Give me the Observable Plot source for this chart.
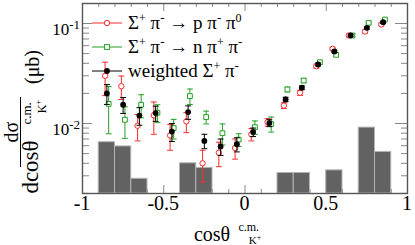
<!DOCTYPE html>
<html><head><meta charset="utf-8">
<script src="https://cdn.jsdelivr.net/npm/d3@7"></script>
<script src="https://cdn.jsdelivr.net/npm/@observablehq/plot@0.6"></script>
<style>body{margin:0;background:#fff}</style>
</head><body><div id="chart"></div>
<script>
// ---- data ----
const binCenters = [-0.85,-0.75,-0.65,-0.55,-0.45,-0.35,-0.25,-0.15,-0.05,0.05,0.15,0.25,0.35,0.45,0.55,0.65,0.75,0.85];
const redVal   = [0.030,0.0236,0.0095,0.0121,0.0076,0.0105,0.0040,0.0051,0.0057,0.0078,0.0103,0.0151,0.0203,0.0374,0.0558,0.0759,0.0832,0.0977];
const redErr   = [0.011,0.0062,0.0028,0.0043,0.0022,0.0024,0.0014,0.0014,0.0013,0.0011,0.0009,0.0010,0.0012,0.0018,0.0020,0.0025,0.0030,0.0030];
const greenVal = [0.0157,0.0109,0.0154,0.0128,0.0090,0.0188,0.0116,0.0080,0.0069,0.0092,0.0099,0.0219,0.0269,0.0410,0.0486,0.0759,0.1016,0.1096];
const greenErr = [0.0078,0.0038,0.0040,0.0026,0.0020,0.0033,0.0017,0.0019,0.0010,0.0014,0.0017,0.0012,0.0013,0.0015,0.0018,0.0025,0.0030,0.0030];
const blackVal = [0.0200,0.0154,0.0120,0.0127,0.0083,0.0130,0.0067,0.0059,0.0062,0.0082,0.0101,0.0174,0.0228,0.0389,0.0525,0.0759,0.0905,0.1030];
const blackErr = [0.0045,0.0028,0.0024,0.0022,0.0017,0.0020,0.0011,0.0011,0.0010,0.0008,0.0008,0.0009,0.0010,0.0013,0.0015,0.0020,0.0025,0.0025];
const histLo  = [-0.9,-0.8,-0.7,-0.4,-0.3,0.2,0.3,0.5,0.7,0.8];
const histHi  = [-0.8,-0.7,-0.6,-0.3,-0.2,0.3,0.4,0.6,0.8,0.9];
const histVal = [0.0065,0.0059,0.0028,0.0040,0.0036,0.0032,0.0032,0.0034,0.0091,0.0052];
const xTickVals = [-1,-0.5,0,0.5,1];
const xTickLabels = ["-1","-0.5","0","0.5","1"];
const xMinorVals = [-0.9,-0.8,-0.7,-0.6,-0.4,-0.3,-0.2,-0.1,0.1,0.2,0.3,0.4,0.6,0.7,0.8,0.9];
const xMajorVals = [-0.5,0,0.5];
const yTickVals = [0.01,0.1];
const yTickExp = ["-2","-1"];
const yMinorVals = [0.002,0.003,0.004,0.005,0.006,0.007,0.008,0.009,0.02,0.03,0.04,0.05,0.06,0.07,0.08,0.09];
const seriesNames = ["red","green","black"];

// ---- styles ----
const RED = "#ff2a2a", GREEN = "#22a022", BLACK = "#000";
const SERIF = "'Liberation Serif','Times New Roman',serif";
const W = 415, H = 245, ML = 82, MR = 8, MT = 3, MB = 52;
const FW = W - ML - MR, FH = H - MT - MB;
const yMin = Math.pow(10,-2.7), yMax = Math.pow(10,-0.8);
const off = 0.011, capHalf = 0.018;

function rows(vals, errs, dx) {
  return binCenters.map((c,i) => ({x: c + dx, v: vals[i], lo: vals[i] - errs[i], hi: vals[i] + errs[i]}));
}
const red = rows(redVal, redErr, -off);
const green = rows(greenVal, greenErr, off);
const black = rows(blackVal, blackErr, 0);
const hist = histLo.map((lo,i) => ({lo, hi: histHi[i], v: histVal[i]}));

function errMarks(data, color) {
  return [
    Plot.ruleX(data, {x: "x", y1: "lo", y2: "hi", stroke: color, strokeWidth: 1}),
    Plot.link(data, {x1: d => d.x - capHalf, x2: d => d.x + capHalf, y1: "lo", y2: "lo", stroke: color, strokeWidth: 1}),
    Plot.link(data, {x1: d => d.x - capHalf, x2: d => d.x + capHalf, y1: "hi", y2: "hi", stroke: color, strokeWidth: 1})
  ];
}

const chart = Plot.plot({
  width: W, height: H, marginLeft: ML, marginRight: MR, marginTop: MT, marginBottom: MB,
  style: {fontFamily: SERIF, background: "#fff"},
  x: {domain: [-1, 1], axis: null},
  y: {type: "log", domain: [yMin, yMax], axis: null},
  marks: [
    Plot.tickY(yMinorVals, {y: d => d, insetRight: FW - 7, stroke: "#888"}),
    Plot.tickY(yTickVals, {y: d => d, insetRight: FW - 10, stroke: "#888"}),
    Plot.tickY(yMinorVals, {y: d => d, insetLeft: FW - 6, stroke: "#888"}),
    Plot.tickY(yTickVals, {y: d => d, insetLeft: FW - 12, stroke: "#888"}),
    Plot.tickX(xMinorVals, {x: d => d, insetBottom: FH - 4, stroke: "#888"}),
    Plot.tickX(xMajorVals, {x: d => d, insetBottom: FH - 8, stroke: "#888"}),
    Plot.tickX(xMinorVals, {x: d => d, insetTop: FH - 4, stroke: "#888"}),
    Plot.tickX(xMajorVals, {x: d => d, insetTop: FH - 8, stroke: "#888"}),
    Plot.rect(hist, {x1: "lo", x2: "hi", y1: yMin, y2: "v", fill: "#626262", stroke: "#b4b4b4", strokeWidth: 1}),
    ...errMarks(red, RED),
    Plot.dot(red, {x: "x", y: "v", r: 2.7, stroke: RED, fill: "#fff", strokeWidth: 1}),
    ...errMarks(green, GREEN),
    Plot.dot(green, {x: "x", y: "v", r: 2.7, symbol: "square", stroke: GREEN, fill: "#fff", strokeWidth: 1}),
    ...errMarks(black, BLACK),
    Plot.dot(black, {x: "x", y: "v", r: 2.9, fill: BLACK, stroke: "none"}),
    Plot.frame({stroke: "#555", strokeWidth: 1.4})
  ]
});
document.getElementById("chart").appendChild(chart);

const svg = d3.select(chart);
const xs = chart.scale("x"), ys = chart.scale("y");
const g = svg.append("g").attr("font-family", SERIF).attr("fill", "#000");

// rich text: parts = [[text, size, shift]]
function rich(parent, x, y, parts, anchor) {
  const t = parent.append("text").attr("x", x).attr("y", y).attr("text-anchor", anchor || "start");
  let prev = 0;
  for (const [txt, size, shift] of parts) {
    t.append("tspan").attr("font-size", size).attr("dy", shift - prev).text(txt);
    prev = shift;
  }
  return t;
}

// x tick labels
xTickVals.forEach((v,i) => {
  g.append("text").attr("x", xs.apply(v)).attr("y", 210).attr("text-anchor", "middle")
   .attr("font-size", 20).text(xTickLabels[i]);
});
// y tick labels: "10" with superscript exponent
yTickVals.forEach((v,i) => {
  const py = ys.apply(v);
  rich(g, 80, py + 12, [["10", 17, 0], [yTickExp[i], 13, -6]], "end");
});

// x axis title
{
  const main = g.append("text").attr("x", 212).attr("y", 241).attr("font-size", 20).text("cos\u03B8");
  const w = main.node().getComputedTextLength();
  g.append("text").attr("x", 212 + w + 0.5).attr("y", 230.5).attr("font-size", 12).text("c.m.");
  rich(g, 212 + w + 0.5, 244, [["K", 11, 0], ["+", 8, -4]]);
}

// y axis title (rotated, reading bottom to top)
{
  const num = g.append("g").attr("transform", "translate(18,132) rotate(-90)");
  num.append("text").attr("text-anchor", "middle").attr("font-size", 20).text("d\u03C3");
  g.append("line").attr("x1", 20.5).attr("x2", 20.5).attr("y1", 97).attr("y2", 167).attr("stroke", "#000").attr("stroke-width", 1);
  const den = g.append("g").attr("transform", "translate(38,167) rotate(-90)");
  const dm = den.append("text").attr("font-size", 23).text("dcos\u03B8");
  const w = dm.node().getComputedTextLength();
  den.append("text").attr("x", w + 0.5).attr("y", -7.5).attr("font-size", 13).text("c.m.");
  rich(den, w + 0.5, 8, [["K", 12, 0], ["+", 9, -5]]);
  const unit = g.append("g").attr("transform", "translate(39,67) rotate(-90)");
  unit.append("text").attr("font-size", 20).text("(\u03BCb)");
}

// legend
const legendY = [23, 47, 71];
const legendColors = [RED, GREEN, BLACK];
const legendParts = [
  [["\u03A3", 19, 0], ["+", 12, -7], [" \u03C0", 19, 0], ["-", 13, -7], [" \u2192 p \u03C0", 19, 0], ["-", 13, -7], [" \u03C0", 19, 0], ["0", 12, -7]],
  [["\u03A3", 19, 0], ["+", 12, -7], [" \u03C0", 19, 0], ["-", 13, -7], [" \u2192 n \u03C0", 19, 0], ["+", 12, -7], [" \u03C0", 19, 0], ["-", 13, -7]],
  [["weighted \u03A3", 19, 0], ["+", 12, -7], [" \u03C0", 19, 0], ["-", 13, -7]]
];
seriesNames.forEach((s,i) => {
  const ly = legendY[i], c = legendColors[i];
  g.append("line").attr("x1", 92).attr("x2", 122).attr("y1", ly).attr("y2", ly).attr("stroke", c).attr("stroke-width", 1);
  if (s === "red") g.append("circle").attr("cx", 107).attr("cy", ly).attr("r", 2.7).attr("fill", "#fff").attr("stroke", c);
  if (s === "green") g.append("rect").attr("x", 104.6).attr("y", ly - 2.4).attr("width", 4.8).attr("height", 4.8).attr("fill", "#fff").attr("stroke", c);
  if (s === "black") g.append("circle").attr("cx", 107).attr("cy", ly).attr("r", 2.9).attr("fill", c);
  rich(g, 128, ly + 6, legendParts[i]);
});
</script>
</body></html>
